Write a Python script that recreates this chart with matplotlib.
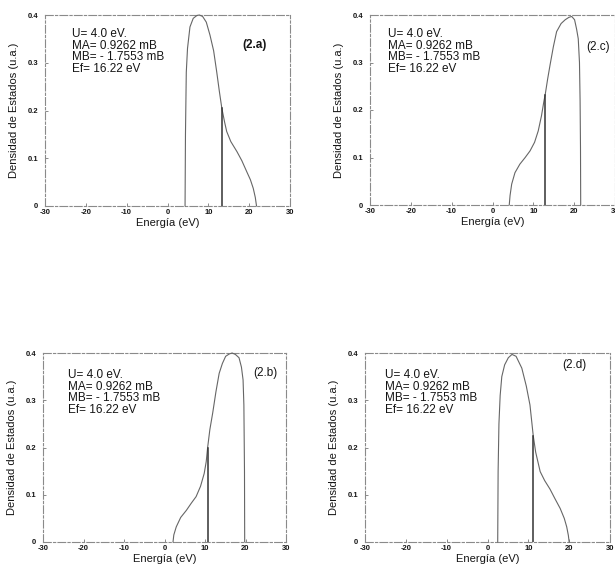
import numpy as np
import matplotlib
matplotlib.use("Agg")
import matplotlib.pyplot as plt
from matplotlib.ticker import FixedLocator, FixedFormatter

plt.rcParams['font.family'] = ['Liberation Sans', 'DejaVu Sans']

# ---------------- data ----------------
x_ticks = [-30, -20, -10, 0, 10, 20, 30]
x_tick_labels = ['-30', '-20', '-10', '0', '10', '20', '30']
y_ticks = [0, 0.1, 0.2, 0.3, 0.4]
y_tick_labels = ['0', '0.1', '0.2', '0.3', '0.4']

info_text = "U= 4.0 eV.\nMA= 0.9262 mB\nMB= - 1.7553 mB\nEf= 16.22 eV"
panel_labels = ['(2.a)', '(2.c)', '(2.b)', '(2.d)']

# (2.a)
energy_a = [4.3, 4.4, 4.6, 4.9, 5.5, 6.3, 7.2, 7.8, 8.6, 9.5, 10.4, 11.3, 12.05,
            12.7, 13.3, 14.0, 14.5, 15.5, 17.0, 18.2, 19.4, 20.3, 21.0, 21.5, 21.8]
dos_a = [0.0, 0.15, 0.28, 0.33, 0.375, 0.393, 0.399, 0.4, 0.397, 0.385, 0.358, 0.325, 0.281,
         0.24, 0.205, 0.175, 0.156, 0.135, 0.114, 0.095, 0.072, 0.055, 0.037, 0.018, 0.0]
ef_a = 13.3

# (2.c)
energy_c = [4.1, 4.3, 4.7, 5.5, 6.7, 8.0, 9.2, 10.3, 11.2, 12.0, 12.6, 12.9, 13.5, 14.1,
            14.9, 15.7, 16.8, 17.8, 18.7, 19.4, 20.1, 20.6, 21.0, 21.3, 21.45, 21.55, 21.6]
dos_c = [0.0, 0.02, 0.044, 0.068, 0.086, 0.1, 0.114, 0.132, 0.156, 0.188, 0.219, 0.232, 0.265,
         0.295, 0.333, 0.365, 0.382, 0.39, 0.395, 0.397, 0.39, 0.37, 0.35, 0.3, 0.22, 0.12, 0.0]
ef_c = 12.9

# (2.b)
energy_b = [2.1, 2.3, 2.9, 4.0, 5.4, 6.6, 7.8, 8.9, 9.8, 10.3, 10.65, 11.2, 11.9, 12.7,
            13.5, 14.3, 15.1, 16.0, 16.7, 17.5, 18.4, 19.0, 19.4, 19.6, 19.75, 19.8]
dos_b = [0.0, 0.015, 0.032, 0.052, 0.067, 0.082, 0.096, 0.118, 0.145, 0.17, 0.2, 0.238, 0.273,
         0.318, 0.357, 0.378, 0.393, 0.398, 0.4, 0.397, 0.39, 0.37, 0.343, 0.29, 0.15, 0.0]
ef_b = 10.65

# (2.d)
energy_d = [2.5, 2.6, 2.8, 3.1, 3.5, 4.2, 5.1, 6.0, 7.0, 8.4, 9.5, 10.4, 11.2, 11.8,
            12.9, 14.0, 15.3, 16.5, 17.8, 18.8, 19.4, 19.8, 20.0]
dos_d = [0.0, 0.15, 0.25, 0.31, 0.35, 0.375, 0.39, 0.397, 0.393, 0.368, 0.33, 0.29, 0.225,
         0.19, 0.149, 0.13, 0.112, 0.092, 0.071, 0.05, 0.032, 0.014, 0.0]
ef_d = 11.2

# ---------------- layout ----------------
W, H = 615, 570
fig = plt.figure(figsize=(W / 100, H / 100), dpi=100)
fig.patch.set_facecolor('white')

def rect(l, r, t, b):
    return [l / W, 1 - b / H, (r - l) / W, (b - t) / H]

panels = [
    dict(rect=rect(45, 290, 15, 206), x=energy_a, y=dos_a, ef=ef_a, lab=panel_labels[0],
         labpos=(21.2, 0.337), bold=True, txt=(0.11, 0.93)),
    dict(rect=rect(370, 615, 15, 205), x=energy_c, y=dos_c, ef=ef_c, lab=panel_labels[1],
         labpos=(25.8, 0.333), bold=False, txt=(0.073, 0.93)),
    dict(rect=rect(43, 286, 353, 542), x=energy_b, y=dos_b, ef=ef_b, lab=panel_labels[2],
         labpos=(24.8, 0.358), bold=False, txt=(0.103, 0.915)),
    dict(rect=rect(365, 610, 353, 542), x=energy_d, y=dos_d, ef=ef_d, lab=panel_labels[3],
         labpos=(21.3, 0.375), bold=False, txt=(0.082, 0.915)),
]

text_color = '#151515'
for p in panels:
    ax = fig.add_axes(p['rect'])
    ax.set_xlim(-30, 30)
    ax.set_ylim(0, 0.4)
    ax.plot(p['x'], p['y'], color='#666666', lw=0.8, clip_on=False, zorder=3)
    h = float(np.interp(p['ef'], p['x'], p['y']))
    ax.plot([p['ef'], p['ef']], [0, h], color='#333333', lw=1.1, zorder=3)

    ax.xaxis.set_major_locator(FixedLocator(x_ticks))
    ax.xaxis.set_major_formatter(FixedFormatter(x_tick_labels))
    ax.yaxis.set_major_locator(FixedLocator(y_ticks))
    ax.yaxis.set_major_formatter(FixedFormatter(y_tick_labels))
    ax.tick_params(direction='in', length=2.5, width=0.6, colors='#777777',
                   labelsize=5.5, labelcolor=text_color, pad=2.5)
    ax.tick_params(axis='y', pad=5)
    for lbl in ax.get_xticklabels() + ax.get_yticklabels():
        lbl.set_fontweight('bold')
    for s in ax.spines.values():
        s.set_color('#8a8a8a')
        s.set_linewidth(0.8)
        s.set_linestyle((0, (7, 2, 2, 2)))

    ax.set_xlabel('Energía (eV)', fontsize=8, color=text_color, labelpad=1)
    ax.set_ylabel('Densidad de Estados (u.a.)', fontsize=8, color=text_color, labelpad=6)

    ax.text(p['txt'][0], p['txt'][1], info_text, transform=ax.transAxes,
            fontsize=8.5, color=text_color, va='top', ha='left', linespacing=0.95)
    ax.text(p['labpos'][0], p['labpos'][1], p['lab'], fontsize=8.5, color=text_color,
            ha='center', va='center', fontweight='bold' if p['bold'] else 'normal')

fig.savefig('out.png', dpi=100, facecolor='white')
